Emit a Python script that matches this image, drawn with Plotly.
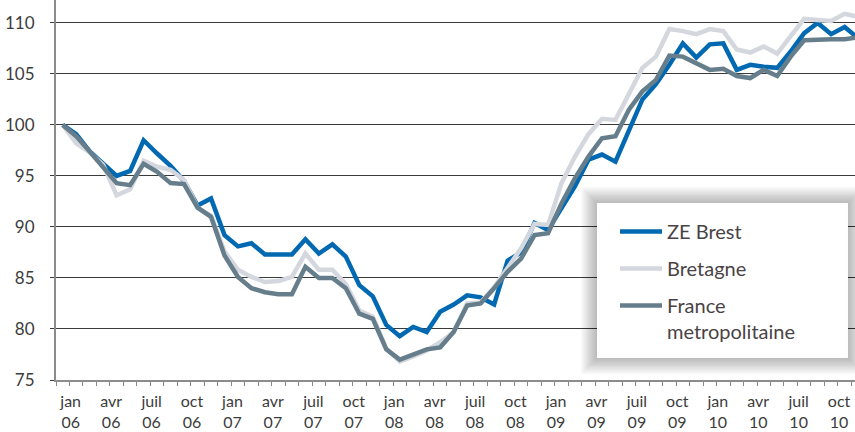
import plotly.graph_objects as go

# ---- data -------------------------------------------------------------
month_names = ["jan", "fev", "mar", "avr", "mai", "juin",
               "juil", "aout", "sep", "oct", "nov", "dec"]
years = ["06", "07", "08", "09", "10"]
months = [f"{m} {y}" for y in years for m in month_names]

ze_brest = [100, 99.1, 97.4, 96.2, 95.0, 95.5, 98.5, 97.2, 96.0, 94.5, 92.1, 92.8,
            89.2, 88.1, 88.4, 87.3, 87.3, 87.3, 88.8, 87.4, 88.3, 87.1, 84.3, 83.2,
            80.4, 79.3, 80.2, 79.7, 81.7, 82.4, 83.3, 83.1, 82.4, 86.7, 87.5, 90.4,
            89.7, 91.8, 94.0, 96.6, 97.1, 96.4, 99.5, 102.5, 104.0, 105.9, 108.0, 106.6,
            107.9, 108.0, 105.4, 105.9, 105.7, 105.6, 107.2, 109.0, 110.0, 108.9, 109.6, 108.5]

bretagne = [100, 98.2, 97.3, 96.1, 93.1, 93.7, 96.5, 95.9, 95.6, 94.6, 91.9, 91.1,
            87.6, 85.8, 85.1, 84.6, 84.7, 85.1, 87.4, 85.8, 85.8, 84.4, 81.8, 81.2,
            78.1, 76.8, 77.3, 77.9, 78.7, 79.7, 82.5, 82.6, 84.1, 86.1, 87.9, 90.3,
            90.2, 94.3, 96.9, 99.1, 100.6, 100.5, 103.1, 105.6, 106.7, 109.4, 109.2, 108.9,
            109.4, 109.2, 107.4, 107.1, 107.7, 107.0, 108.7, 110.4, 110.3, 110.2, 110.9, 110.6]

france = [100, 98.9, 97.4, 95.9, 94.3, 94.1, 96.2, 95.4, 94.3, 94.2, 91.9, 91.0,
          87.2, 85.1, 84.0, 83.6, 83.4, 83.4, 86.1, 85.0, 85.0, 84.0, 81.5, 81.0,
          78.0, 77.0, 77.5, 78.0, 78.2, 79.7, 82.3, 82.5, 84.0, 85.6, 86.9, 89.2,
          89.4, 92.3, 94.8, 96.9, 98.7, 98.9, 101.5, 103.3, 104.4, 106.8, 106.7, 106.1,
          105.4, 105.5, 104.8, 104.6, 105.4, 104.8, 106.7, 108.3, 108.4, 108.4, 108.4, 108.6]

tick_months = ["jan", "avr", "juil", "oct"]
tick_labels = [f"{m}<br>{y}" for y in years for m in tick_months]
tick_index = [months.index(f"{m} {y}") for y in years for m in tick_months]

y_ticks = [75, 80, 85, 90, 95, 100, 105, 110]

# ---- figure -----------------------------------------------------------
x = list(range(len(months)))
FONT = "Lato, 'Open Sans', sans-serif"
TXT = "#3c3c3c"

fig = go.Figure()
series = [
    ("ZE Brest", ze_brest, "#0069b1", 1),
    ("Bretagne", bretagne, "#d4d7de", 2),
    ("France<br>metropolitaine", france, "#667e8b", 3),
]
for name, vals, col, rank in series:
    fig.add_trace(go.Scatter(
        x=x, y=vals, name=name, mode="lines", customdata=months,
        line=dict(color=col, width=4.5),
        legendrank=rank, legendgroup=name,
        hovertemplate="%{customdata}: %{y}<extra></extra>",
    ))

# legend box with soft shadow (paper coords)
bx0, bx1, by0, by1 = 0.6771, 0.9912, 0.0579, 0.4658
px_x = 1 / 799
px_y = 1 / 380
shapes = []
for k in range(10, 0, -1):
    shapes.append(dict(type="rect", xref="paper", yref="paper",
                       x0=bx0 - k * 1.6 * px_x, x1=bx1 + k * 1.6 * px_x,
                       y0=by0 - k * 1.6 * px_y, y1=by1 + k * 1.6 * px_y,
                       line=dict(width=0), fillcolor="rgba(0,0,0,0.026)",
                       layer="above"))
shapes.append(dict(type="rect", xref="paper", yref="paper",
                   x0=bx0, x1=bx1, y0=by0, y1=by1,
                   line=dict(width=0), fillcolor="white", layer="above"))

fig.update_layout(
    width=855, height=432,
    margin=dict(l=56, r=0, t=0, b=52, autoexpand=False),
    paper_bgcolor="white", plot_bgcolor="white",
    font=dict(family=FONT, color=TXT, size=16),
    shapes=shapes,
    showlegend=True,
    legend=dict(
        x=(615 - 56) / 799, y=(380 - 212) / 380, xanchor="left", yanchor="top",
        bgcolor="rgba(0,0,0,0)", borderwidth=0,
        font=dict(family=FONT, size=20, color="#4a4345"),
        traceorder="grouped", tracegroupgap=8, valign="top",
        itemwidth=42,
    ),
    xaxis=dict(
        range=[-0.5, 58.77],
        showgrid=False, zeroline=False,
        showline=True, linecolor="#8c8c8c", linewidth=2,
        tickmode="array", tickvals=[i + 0.59 for i in tick_index], ticktext=tick_labels,
        ticks="", tickfont=dict(size=16, color=TXT), ticklabelstandoff=6,
        minor=dict(ticks="outside", tickmode="linear", tick0=-0.5, dtick=1,
                   ticklen=4, tickwidth=1, tickcolor="#8c8c8c", showgrid=False),
    ),
    yaxis=dict(
        range=[75, 112.25],
        tickmode="array", tickvals=y_ticks,
        showgrid=True, gridcolor="#3a3a3a", gridwidth=1, zeroline=False,
        showline=True, linecolor="#8c8c8c", linewidth=2,
        ticks="outside", ticklen=4, tickcolor="#3a3a3a", tickwidth=1,
        tickfont=dict(size=17, color=TXT), ticklabelstandoff=12,
    ),
)

fig.write_html("out.html",
               config={"displayModeBar": False},
               post_script="document.body.style.margin='0';document.body.style.padding='0';")
